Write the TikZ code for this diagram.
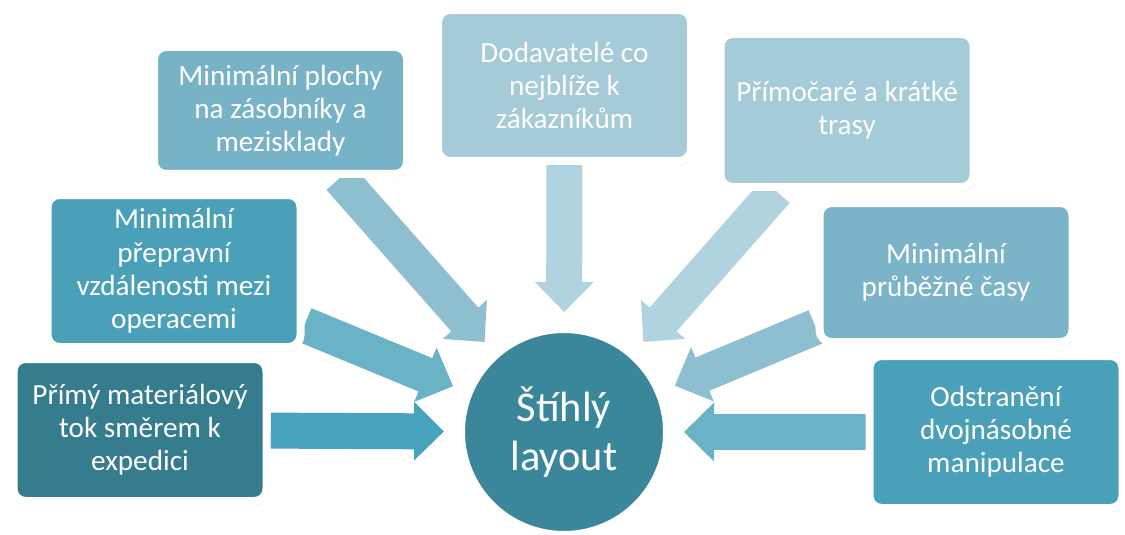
\documentclass[tikz,border=0pt]{standalone}
\usepackage{fontspec}
\setmainfont{Carlito}
\usepackage{xcolor}
\usepackage{tikz}
\usetikzlibrary{arrows.meta,shadows,backgrounds}

\definecolor{tealA}{HTML}{367C8F}
\definecolor{tealB}{HTML}{4AA0B9}
\definecolor{tealC}{HTML}{78B2C7}
\definecolor{tealD}{HTML}{A5CAD8}
\definecolor{hubcol}{HTML}{3A879C}
\definecolor{arrA}{HTML}{48A4BE}
\definecolor{arrB}{HTML}{6AB2C6}
\definecolor{arrC}{HTML}{8DBFD1}
\definecolor{arrD}{HTML}{B1D3DF}

\begin{document}
\begin{tikzpicture}[
    x=0.5pt, y=-0.5pt,
    box/.style={draw=white, line width=4pt, rounded corners=6pt, align=center, inner sep=3pt, text=white, minimum width=126.5pt, font=\fontsize{14.6}{16.6}\selectfont, drop shadow={shadow xshift=1pt, shadow yshift=-2pt, opacity=0.22}},
    hub/.style={circle, draw=white, line width=4pt, minimum size=103pt, align=center, text=white, font=\fontsize{21.2}{24.5}\selectfont},
    barr/.style={line width=18pt, -{Triangle[length=15pt,width=28.5pt]}, shorten >=6.5pt}
  ]
    \useasboundingbox (0,0) rectangle (1125,535);

    \node[box, fill=tealA, minimum height=71pt] (b1) at (140,430) {Přímý materiálový\\tok směrem k\\expedici};
    \node[box, fill=tealB, minimum height=76pt] (b2) at (174,271) {Minimální\\přepravní\\vzdálenosti mezi\\operacemi};
    \node[box, fill=tealC, minimum height=63.5pt] (b3) at (280.5,110.5) {Minimální plochy\\na zásobníky a\\mezisklady};
    \node[box, fill=tealD, minimum height=75.5pt] (b4) at (564.5,85.5) {Dodavatelé co\\nejblíže k\\zákazníkům};
    \node[box, fill=tealD, minimum height=76.5pt] (b5) at (847,110.5) {Přímočaré a krátké\\trasy};
    \node[box, fill=tealC!98!white, minimum height=69.5pt] (b6) at (946,272.5) {Minimální\\průběžné časy};
    \node[box, fill=tealB, minimum height=76pt] (b7) at (996,432) {Odstranění\\dvojnásobné\\manipulace};

    \node[hub, fill=hubcol] (c) at (564,432) {Štíhlý\\layout};

    \begin{scope}[on background layer]
      \draw[barr, arrA] (b1) -- (c);
      \draw[barr, arrB] (b2) -- (c);
      \draw[barr, arrC] (b3) -- (c);
      \draw[barr, arrD] (b4) -- (c);
      \draw[barr, arrD] (b5) -- (c);
      \draw[barr, arrC] (b6) -- (c);
      \draw[barr, arrB] (b7) -- (c);
    \end{scope}
  \end{tikzpicture}
\end{document}
